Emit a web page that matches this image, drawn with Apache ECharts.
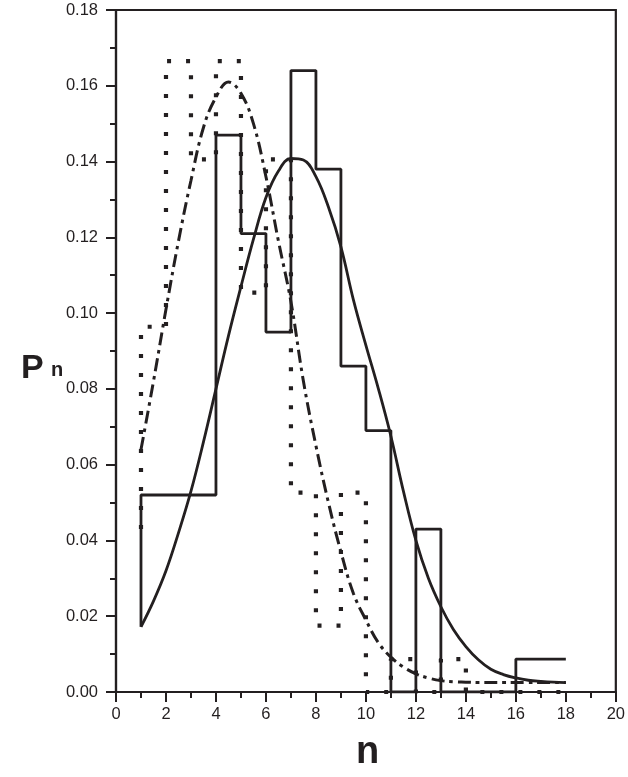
<!DOCTYPE html>
<html>
<head>
<meta charset="utf-8">
<script src="https://cdn.jsdelivr.net/npm/echarts@6/dist/echarts.min.js"></script>
<style>
html,body{margin:0;padding:0;background:#fff;}
#chart{width:628px;height:777px;}
</style>
</head>
<body>
<div id="chart"></div>
<script>
// Solid histogram: bin edges and heights
const solidEdges = [1, 4, 5, 6, 7, 8, 9, 10, 11, 12, 13, 16, 18];
const solidHeights = [0.052, 0.147, 0.121, 0.095, 0.164, 0.138, 0.086, 0.069, 0, 0.043, 0, 0.0087];
const solidStart = 0.0172;

// Dotted histogram: bin edges and heights
const dotEdges = [1, 2, 3, 4, 5, 6, 7, 8, 9, 10, 11, 12, 13, 14, 15, 16, 17, 18];
const dotHeights = [0.0964, 0.1665, 0.1406, 0.1665, 0.1054, 0.1406, 0.0526, 0.0175, 0.0526, 0, 0.0087, 0, 0.0087, 0, 0, 0, 0];
const dotStart = 0.043;

// Curves sampled at n
const curveN = [1, 1.5, 2, 2.5, 3, 3.5, 4, 4.5, 5, 5.5, 6, 6.5, 7, 7.5, 8, 8.5, 9, 9.5, 10, 10.5, 11, 11.5, 12, 12.5, 13, 13.5, 14, 14.5, 15, 15.5, 16, 16.5, 17, 17.5, 18];
const solidCurve = [0.0172, 0.024, 0.032, 0.042, 0.053, 0.066, 0.080, 0.094, 0.107, 0.1195, 0.1305, 0.1375, 0.1408, 0.1404, 0.136, 0.128, 0.1175, 0.1035, 0.0915, 0.080, 0.0675, 0.053, 0.040, 0.030, 0.0225, 0.0165, 0.012, 0.0085, 0.006, 0.0046, 0.0037, 0.0031, 0.0028, 0.0026, 0.0025];
const dashDotCurve = [0.064, 0.082, 0.101, 0.119, 0.135, 0.149, 0.157, 0.161, 0.158, 0.150, 0.136, 0.119, 0.103, 0.082, 0.065, 0.050, 0.037, 0.026, 0.019, 0.013, 0.0092, 0.0066, 0.0048, 0.0037, 0.0030, 0.0027, 0.0026, 0.0025, 0.0025, 0.0025, 0.0025, 0.0025, 0.0025, 0.0025, 0.0025];

// Axis ticks
const xTicks = [0, 2, 4, 6, 8, 10, 12, 14, 16, 18, 20];
const yTicks = [0.00, 0.02, 0.04, 0.06, 0.08, 0.10, 0.12, 0.14, 0.16, 0.18];

function stepPath(edges, heights, start) {
  const pts = [[edges[0], start]];
  for (let i = 0; i < heights.length; i++) {
    pts.push([edges[i], heights[i]]);
    pts.push([edges[i + 1], heights[i]]);
  }
  return pts;
}
function zipXY(xs, ys) { return xs.map((x, i) => [x, ys[i]]); }

const INK = '#231f20';
const FONT = "'Liberation Sans', Arial, Helvetica, sans-serif";

const chart = echarts.init(document.getElementById('chart'), null, {renderer: 'canvas'});
chart.setOption({
  animation: false,
  backgroundColor: '#ffffff',
  grid: {left: 116, right: 12, top: 10, bottom: 85, show: true, borderColor: INK, borderWidth: 2.2, backgroundColor: 'transparent'},
  xAxis: {
    type: 'value', min: xTicks[0], max: xTicks[xTicks.length - 1], interval: 2,
    axisLine: {show: true, onZero: false, lineStyle: {color: INK, width: 2.2}},
    axisTick: {show: true, inside: false, length: 10, lineStyle: {color: INK, width: 2}},
    minorTick: {show: true, splitNumber: 2, length: 6, lineStyle: {color: INK, width: 2}},
    splitLine: {show: false},
    axisLabel: {color: INK, fontFamily: FONT, fontSize: 16.5, margin: 14}
  },
  yAxis: {
    type: 'value', min: yTicks[0], max: yTicks[yTicks.length - 1], interval: 0.02,
    axisLine: {show: true, onZero: false, lineStyle: {color: INK, width: 2.2}},
    axisTick: {show: true, inside: false, length: 10, lineStyle: {color: INK, width: 2}},
    minorTick: {show: true, splitNumber: 2, length: 6, lineStyle: {color: INK, width: 2}},
    splitLine: {show: false},
    axisLabel: {color: INK, fontFamily: FONT, fontSize: 16.5, margin: 18, formatter: v => v.toFixed(2)}
  },
  graphic: [
    {type: 'text', left: 21, top: 352, style: {text: 'P', font: 'bold 34px ' + FONT, fill: INK}},
    {type: 'text', left: 51, top: 360, style: {text: 'n', font: 'bold 20px ' + FONT, fill: INK}},
    {type: 'text', left: 356, top: 734, style: {text: 'n', font: 'bold 38px ' + FONT, fill: INK}}
  ],
  series: [
    {
      type: 'line', data: stepPath(solidEdges, solidHeights, solidStart), symbol: 'none',
      lineStyle: {color: INK, width: 2.8}, z: 3
    },
    {
      type: 'line', data: zipXY(curveN, solidCurve), symbol: 'none', smooth: 0.4,
      lineStyle: {color: INK, width: 2.8}, z: 3
    },
    {
      type: 'line', data: zipXY(curveN, dashDotCurve), symbol: 'none', smooth: 0.4,
      lineStyle: {color: INK, width: 3, type: [13, 5, 3.5, 5]}, z: 4
    },
    {
      type: 'line', data: stepPath(dotEdges, dotHeights, dotStart), symbol: 'none',
      lineStyle: {color: INK, width: 4.2, type: [4, 15]}, z: 5
    }
  ]
});
</script>
</body>
</html>
